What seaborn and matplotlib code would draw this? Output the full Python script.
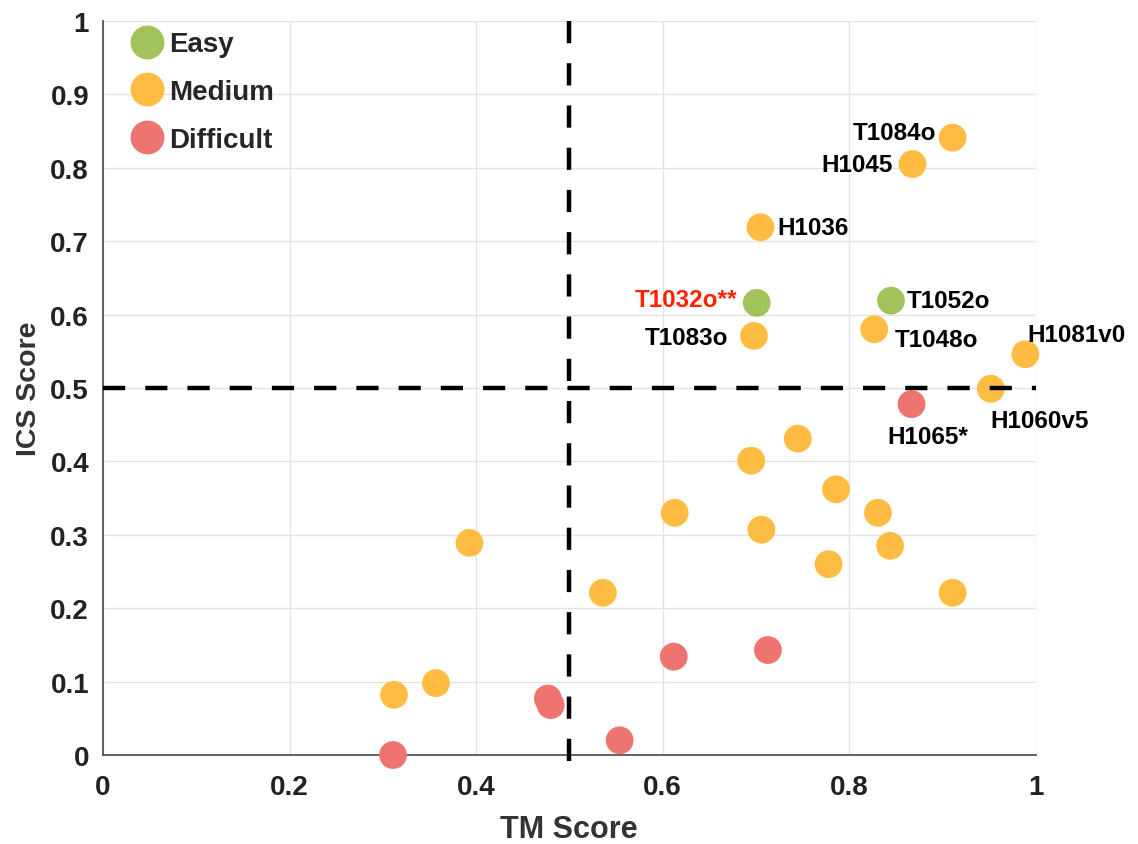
import matplotlib
matplotlib.use("Agg")
import matplotlib.pyplot as plt
import seaborn as sns
import pandas as pd

# ---- data ----
easy_x = [0.701, 0.845]
easy_y = [0.616, 0.619]
medium_x = [0.911, 0.868, 0.705, 0.698, 0.827, 0.989, 0.952, 0.745, 0.695, 0.786,
            0.613, 0.831, 0.706, 0.844, 0.393, 0.778, 0.536, 0.911, 0.312, 0.357]
medium_y = [0.841, 0.805, 0.719, 0.571, 0.580, 0.546, 0.499, 0.431, 0.401, 0.362,
            0.330, 0.330, 0.307, 0.285, 0.289, 0.260, 0.221, 0.221, 0.082, 0.098]
difficult_x = [0.867, 0.612, 0.713, 0.477, 0.480, 0.554, 0.311]
difficult_y = [0.478, 0.134, 0.143, 0.077, 0.068, 0.020, 0.000]

levels = ["Easy", "Medium", "Difficult"]
level_colors = ["#A2C35C", "#FFBC42", "#EE7470"]

label_names = ["T1032o**", "T1052o", "T1084o", "H1045", "H1036", "T1083o",
               "T1048o", "H1081v0", "H1060v5", "H1065*"]
label_x = [0.701, 0.845, 0.911, 0.868, 0.705, 0.698, 0.827, 0.989, 0.952, 0.867]
label_y = [0.616, 0.619, 0.841, 0.805, 0.719, 0.571, 0.580, 0.546, 0.499, 0.478]

x_ticks = [0, 0.2, 0.4, 0.6, 0.8, 1.0]
x_tick_labels = ["0", "0.2", "0.4", "0.6", "0.8", "1"]
y_ticks = [0, 0.1, 0.2, 0.3, 0.4, 0.5, 0.6, 0.7, 0.8, 0.9, 1.0]
y_tick_labels = ["0", "0.1", "0.2", "0.3", "0.4", "0.5", "0.6", "0.7", "0.8", "0.9", "1"]

df = pd.DataFrame({
    "TM Score": easy_x + medium_x + difficult_x,
    "ICS Score": easy_y + medium_y + difficult_y,
    "Level": ["Easy"] * len(easy_x) + ["Medium"] * len(medium_x) + ["Difficult"] * len(difficult_x),
})

# ---- style ----
sns.set_style("white")
plt.rcParams["font.family"] = ["Liberation Sans", "DejaVu Sans"]
plt.rcParams["font.weight"] = "bold"

fig = plt.figure(figsize=(11.38, 8.45), dpi=100)
ax = fig.add_axes([0.0905, 0.1053, 0.8195, 0.8687])

sns.scatterplot(data=df, x="TM Score", y="ICS Score", hue="Level",
                hue_order=levels, palette=dict(zip(levels, level_colors)),
                s=400, edgecolor="none", linewidth=0, ax=ax, clip_on=False,
                zorder=3)

ax.set_xlim(0, 1)
ax.set_ylim(0, 1)
ax.set_xticks(x_ticks)
ax.set_xticklabels(x_tick_labels)
ax.set_yticks(y_ticks)
ax.set_yticklabels(y_tick_labels)
ax.tick_params(axis="both", direction="in", length=7, width=1.2, color="#333333",
               labelsize=20)
ax.tick_params(axis="x", pad=14)
ax.tick_params(axis="y", pad=10)
for lab in ax.get_xticklabels() + ax.get_yticklabels():
    lab.set_fontweight("bold")
    lab.set_color("#222222")

ax.grid(True, color="#E3E3E3", linewidth=1.0, zorder=0)
ax.set_axisbelow(True)
for side in ["top", "right"]:
    ax.spines[side].set_visible(False)
for side in ["left", "bottom"]:
    ax.spines[side].set_color("#555555")
    ax.spines[side].set_linewidth(1.3)

ax.set_xlabel("TM Score", fontsize=22, fontweight="bold", color="#333333", labelpad=10)
ax.set_ylabel("ICS Score", fontsize=20.5, fontweight="bold", color="#333333", labelpad=6)

# dashed threshold lines
ax.plot([0.5, 0.5], [-0.008, 1.0], linestyle=(0, (5, 4.5)), color="black",
        linewidth=3.2, clip_on=False, zorder=4)
ax.plot([0.0, 1.0], [0.5, 0.5], linestyle=(0, (5, 4.5)), color="black",
        linewidth=3.2, clip_on=False, zorder=4)

# point labels (offsets in pixels)
label_offsets = {
    "T1084o": (-16, 5, "right"),
    "H1045": (-20, 0, "right"),
    "H1036": (17, 0, "left"),
    "T1032o**": (-19, 3, "right"),
    "T1083o": (-26, -2, "right"),
    "T1052o": (16, 0, "left"),
    "T1048o": (21, -10, "left"),
    "H1081v0": (2, 20, "left"),
    "H1060v5": (0, -32, "left"),
    "H1065*": (-24, -32, "left"),
}
for name, lx, ly in zip(label_names, label_x, label_y):
    dx, dy, ha = label_offsets[name]
    color = "#FF2200" if name == "T1032o**" else "black"
    ax.annotate(name, (lx, ly), xytext=(dx, dy), textcoords="offset pixels",
                ha=ha, va="center", fontsize=17.5, fontweight="bold",
                color=color, zorder=5, annotation_clip=False)

# legend
handles, labels_ = ax.get_legend_handles_labels()
leg = ax.legend(handles, labels_, loc="upper left", frameon=False,
                bbox_to_anchor=(0.032, 0.986), markerscale=1.22,
                prop={"size": 20, "weight": "bold"}, handlelength=1.0,
                handletextpad=0.32, labelspacing=0.78, borderpad=0.0,
                borderaxespad=0.0, title=None)

fig.savefig("out.png", dpi=100)
